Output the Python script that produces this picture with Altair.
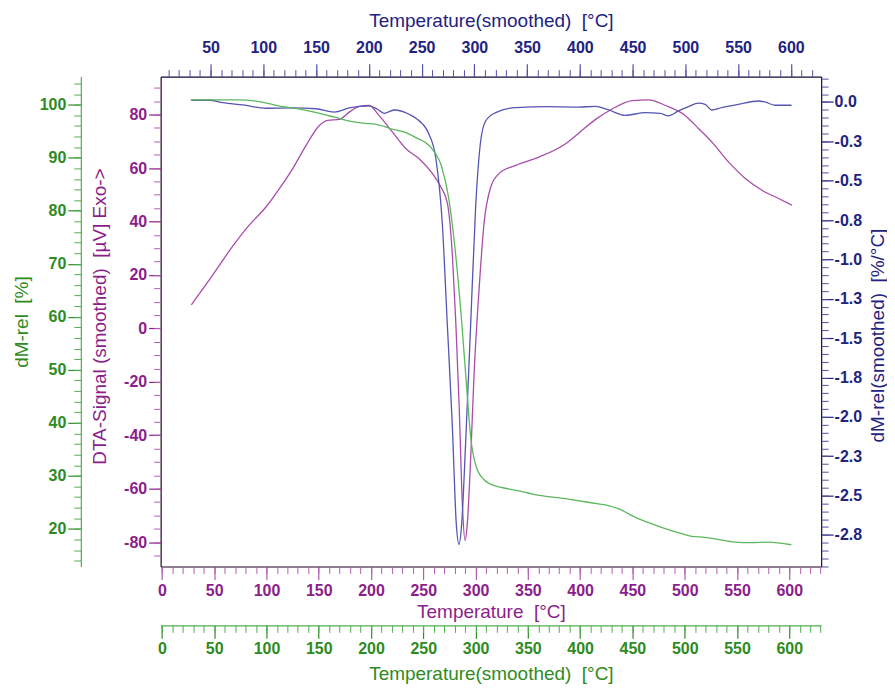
import altair as alt
import pandas as pd

# ---------------- data ----------------
dta_t = [28.1, 48.7, 66.3, 83.7, 99.7, 112.4, 125.1, 137.9, 150.6, 158.5, 169.7, 179.2, 188.8, 198.3,
         207.8, 220.6, 233.4, 246.0, 258.8, 266.8, 273.1, 277.9, 281.1, 284.3, 287.4, 290.0, 292.2,
         295.4, 298.6, 303.3, 308.1, 314.5, 322.4, 338.4, 360.6, 386.1, 400.0, 414.8, 430.6, 449.7,
         465.7, 481.6, 500.7, 513.4, 526.1, 542.1, 558.0, 573.9, 589.8, 602.5]
dta_v = [8.8, 20.0, 30.0, 38.7, 45.5, 52.3, 59.8, 68.5, 75.9, 77.8, 78.2, 80.9, 83.1, 83.4,
         79.6, 73.4, 67.2, 63.5, 57.9, 52.9, 46.7, 26.8, 2.0, -29.1, -66.3, -79.4, -72.5,
         -47.7, -16.6, 14.4, 39.3, 52.9, 57.9, 61.0, 64.1, 69.1, 73.5, 78.2, 82.1, 85.2,
         85.5, 83.4, 79.6, 74.7, 69.7, 62.2, 56.1, 51.7, 48.6, 46.1]

dtg_t = [31.8, 49.1, 61.6, 80.6, 102.7, 127.8, 150.0, 167.3, 181.4, 200.3, 208.2, 214.5, 224.0,
         238.2, 245.0, 257.1, 263.4, 269.7, 274.4, 279.1, 282.9, 285.5, 288.0, 291.8, 296.5, 301.2,
         306.0, 310.7, 320.2, 339.1, 370.6, 398.9, 414.7, 427.3, 443.1, 462.0, 476.2, 484.0, 493.5,
         502.9, 512.4, 518.7, 525.0, 534.4, 550.2, 569.1, 575.4, 584.9, 600.6]
dtg_v = [0.011, 0.011, -0.004, -0.019, -0.040, -0.038, -0.043, -0.064, -0.038, -0.025, -0.046, -0.072, -0.051,
         -0.078, -0.105, -0.206, -0.354, -0.778, -1.415, -2.050, -2.680, -2.810, -2.680, -2.158, -1.415, -0.673,
         -0.248, -0.121, -0.068, -0.036, -0.030, -0.033, -0.028, -0.051, -0.085, -0.068, -0.072, -0.089, -0.057,
         -0.030, -0.008, -0.015, -0.051, -0.036, -0.015, 0.006, 0.000, -0.021, -0.021]

tg_t = [27.4, 44.9, 73.5, 92.6, 111.7, 130.8, 150.0, 165.9, 181.8, 194.6, 207.3, 220.0, 232.8, 243.0,
        258.2, 267.7, 274.1, 280.5, 286.8, 291.6, 295.5, 300.3, 307.5, 318.7, 325.0, 347.4, 353.7,
        388.7, 417.4, 426.9, 436.5, 452.4, 477.8, 497.0, 506.5, 519.3, 532.0, 548.0, 563.8, 579.8, 602.0]
tg_v = [100.9, 100.9, 100.9, 100.6, 99.8, 99.2, 98.4, 97.6, 96.8, 96.5, 96.2, 95.4, 94.8, 93.8,
        91.7, 88.2, 82.6, 72.6, 58.8, 46.3, 37.0, 31.9, 29.4, 28.1, 27.8, 26.9, 26.6,
        25.6, 24.7, 24.4, 23.8, 22.2, 20.3, 19.1, 18.6, 18.4, 18.0, 17.5, 17.4, 17.5, 17.0]

x_major = [0, 50, 100, 150, 200, 250, 300, 350, 400, 450, 500, 550, 600]
x_top_major = [50, 100, 150, 200, 250, 300, 350, 400, 450, 500, 550, 600]
dta_major = [-80, -60, -40, -20, 0, 20, 40, 60, 80]
tg_major = [20, 30, 40, 50, 60, 70, 80, 90, 100]
dtg_major = [0.0, -0.25, -0.5, -0.75, -1.0, -1.25, -1.5, -1.75, -2.0, -2.25, -2.5, -2.75]

x_minor = list(range(0, 631, 10))
dta_minor = list(range(-85, 91, 5))
tg_minor = list(range(14, 105, 2))
dtg_minor = [round(-2.95 + 0.05 * i, 2) for i in range(63)]

dta = pd.DataFrame({"t": dta_t, "v": dta_v})
dtg = pd.DataFrame({"t": dtg_t, "v": dtg_v})
tg = pd.DataFrame({"t": tg_t, "v": tg_v})

# ---------------- styling ----------------
FONT = "Liberation Sans"
PURPLE = "#8B1E8B"
PURPLE_LINE = "#A94DA9"
PURPLE_TICK = "#B25CB2"
GREEN = "#2E8B22"
GREEN_LINE = "#5CB85C"
GREEN_TICK = "#4FAF4F"
BLUE = "#22227F"
BLUE_LINE = "#5555B2"
BLUE_TICK = "#5050A8"
W, H = 662, 491
GAP = "\u00a0 "

xs_bot = alt.Scale(domain=[-1.2, 630.5], nice=False, zero=False)
xs_top = alt.Scale(domain=[2.7, 628.7], nice=False, zero=False)
ys_dta = alt.Scale(domain=[-89.1, 94.2], nice=False, zero=False)
ys_tg = alt.Scale(domain=[12.9, 105.3], nice=False, zero=False)
ys_dtg = alt.Scale(domain=[-2.951, 0.161], nice=False, zero=False)


def major_axis(orient, values, color, tick_color, title, domain_color, tick_size=12,
               label_pad=2, offset=0, label_expr="'' + datum.value", **title_pos):
    return alt.Axis(
        orient=orient, values=values, grid=False, offset=offset,
        tickSize=tick_size, tickColor=tick_color, tickWidth=1.2,
        domain=True, domainColor=domain_color, domainWidth=1.2,
        labelColor=color, labelFont=FONT, labelFontSize=16, labelFontWeight="bold",
        labelPadding=label_pad, labelFlush=False, labelOverlap=False, labelExpr=label_expr,
        title=title, titleColor=color, titleFont=FONT, titleFontSize=19,
        titleFontWeight="normal", **title_pos)


def minor_axis(orient, values, tick_color, offset=0, tick_size=7):
    return alt.Axis(orient=orient, values=values, grid=False, offset=offset,
                    tickSize=tick_size, tickColor=tick_color, tickWidth=1,
                    domain=False, labels=False, title=None)


def layer(df, xscale, yscale, xaxis, yaxis, color, opacity=1.0):
    return alt.Chart(df).mark_line(color=color, strokeWidth=1.3, strokeOpacity=opacity,
                                   interpolate="monotone", clip=True).encode(
        x=alt.X("t:Q", scale=xscale, axis=xaxis),
        y=alt.Y("v:Q", scale=yscale, axis=yaxis),
    )


dtg_expr = "(datum.value < 0 ? '-' : '') + format(abs(datum.value), '.1f')"

purple = layer(
    dta, xs_bot, ys_dta,
    major_axis("bottom", x_major, PURPLE, PURPLE_TICK, "Temperature" + GAP + "[°C]", "#2a102a",
               tick_size=13, label_pad=3, titleY=45, titleBaseline="middle"),
    major_axis("left", dta_major, PURPLE, PURPLE, "DTA-Signal (smoothed)" + GAP + "[µV] Exo->", "#2a102a",
               tick_size=12, label_pad=2, titleX=-61, titleY=240, titleBaseline="middle", titleAngle=270),
    PURPLE_LINE)

blue = layer(
    dtg, xs_top, ys_dtg,
    major_axis("top", x_top_major, BLUE, BLUE_TICK, "Temperature(smoothed)" + GAP + "[°C]", "#14143c",
               tick_size=13, label_pad=8, titleY=-56, titleBaseline="middle"),
    major_axis("right", dtg_major, BLUE, BLUE, "dM-rel(smoothed)" + GAP + "[%/°C]", "#14143c",
               tick_size=12, label_pad=1, label_expr=dtg_expr,
               titleX=56, titleY=259, titleBaseline="middle", titleAngle=270),
    BLUE_LINE)

green = layer(
    tg, xs_bot, ys_tg,
    major_axis("bottom", x_major, GREEN, GREEN, "Temperature(smoothed)" + GAP + "[°C]", GREEN_TICK,
               tick_size=13, label_pad=2, offset=59, titleY=48, titleBaseline="middle"),
    major_axis("left", tg_major, GREEN, GREEN, "dM-rel" + GAP + "[%]", GREEN_TICK,
               tick_size=13, label_pad=2, offset=80, titleX=-59, titleBaseline="middle", titleAngle=270),
    GREEN_LINE)

purple_minor = layer(dta, xs_bot, ys_dta,
                     minor_axis("bottom", x_minor, PURPLE_TICK),
                     minor_axis("left", dta_minor, PURPLE_TICK), PURPLE_LINE, opacity=0)
blue_minor = layer(dtg, xs_top, ys_dtg,
                   minor_axis("top", x_minor, BLUE_TICK),
                   minor_axis("right", dtg_minor, BLUE_TICK), BLUE_LINE, opacity=0)
green_minor = layer(tg, xs_bot, ys_tg,
                    minor_axis("bottom", x_minor, GREEN_TICK, offset=59),
                    minor_axis("left", tg_minor, GREEN_TICK, offset=80), GREEN_LINE, opacity=0)

chart = alt.layer(purple, blue, green, purple_minor, blue_minor, green_minor).resolve_scale(
    x="independent", y="independent"
).properties(
    width=W, height=H,
    autosize=alt.AutoSizeParams(type="none"),
    padding={"left": 153, "top": 68, "right": 66, "bottom": 119},
).configure_view(stroke="#1e1e2e", strokeWidth=1.2).configure(background="white")

chart.save("out.html", embed_options={"renderer": "svg", "actions": False})
